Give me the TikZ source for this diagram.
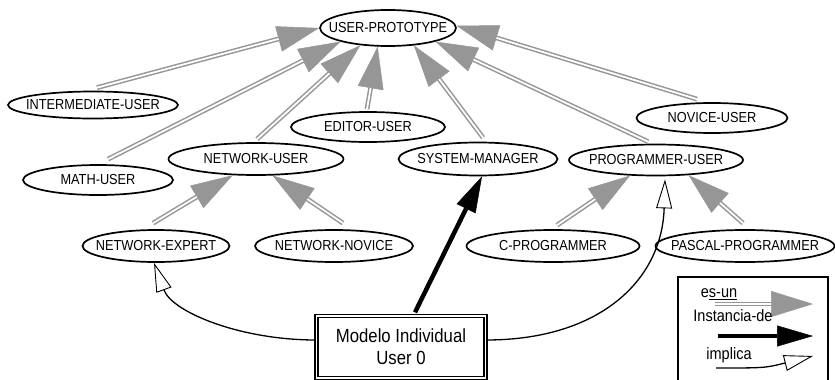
\documentclass[tikz,border=0pt]{standalone}
\usepackage{fontspec}
\setmainfont{Liberation Sans}[FakeStretch=0.88]
\usetikzlibrary{shapes.geometric,arrows.meta}
\definecolor{isagray}{RGB}{150,150,150}
\newcommand{\clsfont}{\fontsize{14.5}{17}\selectfont}
\newcommand{\legfont}{\fontsize{16.5}{19}\selectfont}
\newcommand{\boxfont}{\fontsize{19}{22}\selectfont}
\begin{document}
\begin{tikzpicture}[x=1pt,y=-1pt,
  cls/.style={ellipse, draw, line width=1.7pt, inner sep=0pt, font=\clsfont},
  isa/.style={draw=isagray, line width=4.8pt,
    -{Triangle[length=42pt,width=26pt,line width=0.5pt]},
    postaction={draw=white, line width=1.8pt, -, shorten >=42pt}},
  inst/.style={draw, line width=4.5pt, -{Triangle[length=36pt,width=21pt,line width=0.5pt]}},
  impl/.style={draw, line width=1.3pt, -{Triangle[open,length=29pt,width=16pt,line width=0.9pt]}},
]
\useasboundingbox (0,0) rectangle (835,380);

% class hierarchy
\node[cls, minimum width=136pt, minimum height=36pt] (up)  at (388,28)  {\makebox[0pt]{USER-PROTOTYPE}};
\node[cls, minimum width=170pt, minimum height=27pt] (iu)  at (93,105)  {\makebox[0pt]{INTERMEDIATE-USER}};
\node[cls, minimum width=154pt, minimum height=30pt] (eu)  at (368,127) {\makebox[0pt]{EDITOR-USER}};
\node[cls, minimum width=151pt, minimum height=30pt] (nu)  at (712,118) {\makebox[0pt]{NOVICE-USER}};
\node[cls, minimum width=150pt, minimum height=30pt] (mu)  at (98,180)  {\makebox[0pt]{MATH-USER}};
\node[cls, minimum width=175pt, minimum height=32pt] (nwu) at (256,159) {\makebox[0pt]{NETWORK-USER}};
\node[cls, minimum width=159pt, minimum height=33pt] (sm)  at (478,159) {\makebox[0pt]{SYSTEM-MANAGER}};
\node[cls, minimum width=174pt, minimum height=31pt] (pu)  at (656,160) {\makebox[0pt]{PROGRAMMER-USER}};
\node[cls, minimum width=147pt, minimum height=32pt] (ne)  at (156,246) {\makebox[0pt]{NETWORK-EXPERT}};
\node[cls, minimum width=158pt, minimum height=32pt] (nn)  at (334,246) {\makebox[0pt]{NETWORK-NOVICE}};
\node[cls, minimum width=173pt, minimum height=32pt] (cp)  at (553,246) {\makebox[0pt]{C-PROGRAMMER}};
\node[cls, minimum width=179pt, minimum height=32pt] (pp)  at (745,246) {\makebox[0pt]{PASCAL-PROGRAMMER}};

% individual model
\node[draw, double, double distance=1.8pt, line width=1.3pt, inner sep=0pt,
      minimum width=169pt, minimum height=62pt, align=center, font=\boxfont]
      (ind) at (401,347) {Modelo Individual\\User 0};

% es-un links
\draw[isa] ([xshift=4pt,yshift=3pt]iu.north) -- (up.180);
\draw[isa] ([xshift=10pt,yshift=5pt]mu.north) -- (up.196);
\draw[isa] ([xshift=1pt,yshift=3pt]nwu.north) -- (up.212);
\draw[isa] ([xshift=-1pt,yshift=2pt]eu.north) -- (up.241);
\draw[isa] ([xshift=5pt,yshift=4pt]sm.north) -- (up.326);
\draw[isa] ([xshift=-8pt,yshift=2pt]pu.north) -- (up.344);
\draw[isa] ([xshift=-15pt,yshift=3pt]nu.north) -- (up.2);
\draw[isa] ([xshift=-3pt,yshift=6pt]ne.north) -- (nwu.215);
\draw[isa] ([xshift=9pt,yshift=6pt]nn.north) -- (nwu.315);
\draw[isa] ([xshift=4pt,yshift=4pt]cp.north) -- (pu.211);
\draw[isa] ([xshift=-2pt,yshift=6pt]pp.north) -- (pu.335);

% instance-of link
\draw[inst] ([xshift=14pt,yshift=3pt]ind.north) -- (sm.283);

% implications
\draw[impl] ([yshift=7pt]ind.west) .. controls (240,340) and (172,312) .. ([xshift=-2pt]ne.south);
\draw[impl] ([yshift=7pt]ind.east) .. controls (600,340) and (662,280) .. ([xshift=9pt,yshift=-3pt]pu.south);

% legend
\draw[line width=1.8pt] (678,277) rectangle (828,392);
\node[font=\legfont] (tisa) at (719,294) {e\underline{s-un}};
\coordinate (isa0) at (715,304);
\coordinate (isa1) at (813,304);
\draw[isa] (isa0) -- (isa1);
\node[font=\legfont] (tinst) at (733,316) {Instancia-de};
\coordinate (inst0) at (718,336);
\coordinate (inst1) at (813,336);
\draw[inst] (inst0) -- (inst1);
\node[font=\legfont] (timpl) at (729,355) {implica};
\coordinate (impl0) at (716,368);
\coordinate (impl1) at (813,356);
\draw[impl] (impl0) .. controls (765,368) .. (impl1);
\end{tikzpicture}
\end{document}
